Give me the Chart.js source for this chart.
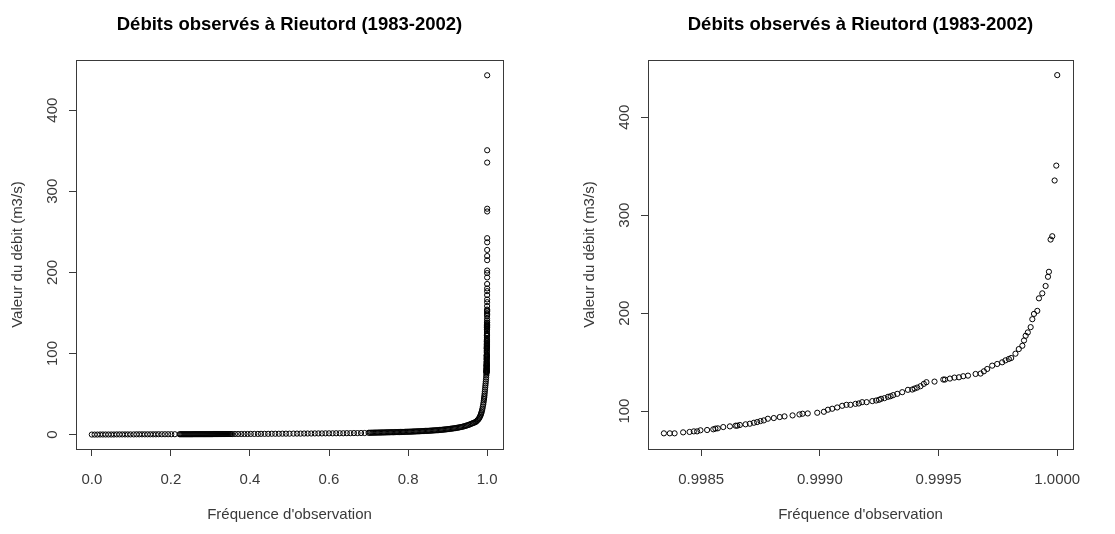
<!DOCTYPE html>
<html>
<head>
<meta charset="utf-8">
<script src="https://cdn.jsdelivr.net/npm/chart.js@4.4.0/dist/chart.umd.min.js"></script>
<style>
  body { margin: 0; background: #fff; }
  #wrap { position: relative; width: 1115px; height: 534px; }
  canvas { position: absolute; top: 0; }
</style>
</head>
<body>
<div id="wrap">
  <canvas id="fullChart" width="557" height="534" style="left:0"></canvas>
  <canvas id="zoomChart" width="558" height="534" style="left:557px"></canvas>
</div>
<script>
const chartTitle = 'Débits observés à Rieutord (1983-2002)';
const xLabel = "Fréquence d'observation";
const yLabel = 'Valeur du débit (m3/s)';

// low part of the curve (only on the left plot)
const lowFreq = [
  // 0 - 0.21
  0.000, 0.007, 0.014, 0.021, 0.028, 0.035, 0.042, 0.049, 0.056, 0.063,
  0.070, 0.077, 0.084, 0.091, 0.098, 0.106, 0.113, 0.120, 0.127, 0.134,
  0.141, 0.148, 0.155, 0.162, 0.169, 0.177, 0.185, 0.193, 0.201, 0.210,
  // 0.22 - 0.355
  0.222, 0.2245, 0.227, 0.2295, 0.232, 0.2345, 0.237, 0.2395, 0.242, 0.2445,
  0.247, 0.2495, 0.252, 0.2545, 0.257, 0.2595, 0.262, 0.2645, 0.267, 0.2695,
  0.272, 0.2745, 0.277, 0.2795, 0.282, 0.2845, 0.287, 0.2895, 0.292, 0.2945,
  0.297, 0.2995, 0.302, 0.3045, 0.307, 0.3095, 0.312, 0.3145, 0.317, 0.3195,
  0.322, 0.3245, 0.327, 0.3295, 0.332, 0.3345, 0.337, 0.3395, 0.342, 0.3445,
  0.347, 0.3495, 0.352, 0.355,
  // 0.36 - 0.69
  0.362, 0.370, 0.378, 0.386, 0.394, 0.402, 0.411, 0.420,
  0.428, 0.437, 0.446, 0.455, 0.464, 0.473, 0.482, 0.491, 0.500, 0.510,
  0.519, 0.528, 0.537, 0.546, 0.555, 0.564, 0.573, 0.582, 0.591, 0.600,
  0.609, 0.618, 0.627, 0.636, 0.645, 0.654, 0.663, 0.672, 0.681, 0.690,
  // 0.70 - 0.97
  0.700, 0.703, 0.706, 0.709, 0.712, 0.715, 0.718, 0.721, 0.724, 0.727,
  0.730, 0.733, 0.736, 0.739,
  0.742, 0.745, 0.748, 0.751, 0.754, 0.757, 0.760, 0.763, 0.766, 0.769,
  0.772, 0.775, 0.778, 0.781, 0.784, 0.787, 0.790, 0.793, 0.796, 0.799,
  0.802, 0.805, 0.808, 0.811, 0.814, 0.817, 0.820, 0.823, 0.826, 0.829,
  0.832, 0.835, 0.838, 0.841, 0.844, 0.847,
  0.850, 0.853, 0.856, 0.859, 0.862, 0.865, 0.868, 0.871, 0.874, 0.877,
  0.880, 0.883, 0.886, 0.889, 0.892, 0.895, 0.898,
  0.901, 0.904, 0.907, 0.910, 0.913, 0.916, 0.919, 0.922, 0.925, 0.928,
  0.931, 0.934, 0.937, 0.940, 0.943, 0.946, 0.949,
  0.952, 0.955, 0.958, 0.961, 0.964, 0.967, 0.970,
  // bend 0.972 - 0.9983
  0.972, 0.974, 0.976, 0.978, 0.980, 0.9815, 0.983, 0.984, 0.985, 0.986,
  0.987, 0.988, 0.989, 0.990, 0.9907, 0.9915, 0.992, 0.9925, 0.993, 0.9935,
  0.994, 0.9945, 0.995, 0.9955, 0.996, 0.9965, 0.997, 0.9974, 0.9978, 0.9981,
  0.9983
];
const lowFlow = [
  0.1, 0.1, 0.1, 0.2, 0.2, 0.2, 0.2, 0.2, 0.2, 0.3,
  0.3, 0.3, 0.3, 0.3, 0.3, 0.3, 0.4, 0.4, 0.4, 0.4,
  0.4, 0.4, 0.4, 0.4, 0.5, 0.5, 0.5, 0.5, 0.5, 0.5,

  0.5, 0.5, 0.5, 0.5, 0.5, 0.5, 0.5, 0.5, 0.5, 0.5,
  0.5, 0.5, 0.5, 0.5, 0.6, 0.6, 0.6, 0.6, 0.6, 0.6,
  0.6, 0.6, 0.6, 0.6, 0.6, 0.6, 0.6, 0.6, 0.6, 0.6,
  0.6, 0.6, 0.6, 0.6, 0.7, 0.7, 0.7, 0.7, 0.7, 0.7,
  0.7, 0.7, 0.7, 0.7, 0.7, 0.7, 0.7, 0.7, 0.7, 0.7,
  0.7, 0.7, 0.7, 0.7,

  0.8, 0.8, 0.8, 0.8, 0.8, 0.9, 0.9, 0.9,
  1.0, 1.0, 1.0, 1.1, 1.1, 1.1, 1.2, 1.2, 1.2, 1.3,
  1.3, 1.3, 1.4, 1.4, 1.4, 1.5, 1.5, 1.5, 1.6, 1.6,
  1.6, 1.7, 1.7, 1.7, 1.8, 1.8, 1.9, 1.9, 2.0, 2.0,

  2.3, 2.3, 2.4, 2.4, 2.4, 2.5, 2.5, 2.5, 2.6, 2.6,
  2.6, 2.7, 2.7, 2.7,
  2.8, 2.8, 2.9, 2.9, 2.9, 3.0, 3.0, 3.0, 3.1, 3.1,
  3.1, 3.2, 3.2, 3.3, 3.3, 3.4, 3.4, 3.5, 3.5, 3.6,
  3.6, 3.7, 3.7, 3.8, 3.9, 3.9, 4.0, 4.1, 4.1, 4.2,
  4.3, 4.3, 4.4, 4.5, 4.6, 4.6,
  4.7, 4.8, 4.9, 5.0, 5.1, 5.2, 5.3, 5.4, 5.5, 5.6,
  5.8, 5.9, 6.0, 6.2, 6.3, 6.5, 6.6,
  6.8, 7.0, 7.2, 7.4, 7.6, 7.8, 8.0, 8.3, 8.5, 8.8,
  9.1, 9.4, 9.7, 10.1, 10.5, 10.9, 11.4,
  11.9, 12.4, 13.0, 13.6, 14.2, 14.8, 15.5,

  16.0, 17.0, 18.0, 19.0, 20.5, 22.0, 23.5, 25.0, 26.5, 28.0,
  30.0, 32.0, 34.5, 37.0, 39.5, 42.0, 44.0, 46.0, 48.0, 50.5,
  53.0, 55.5, 58.0, 60.5, 63.0, 65.5, 68.0, 70.5, 73.0, 75.0,
  76.5
];

// top of the distribution (right plot, also on the left plot)
const topFreq = [
  0.998343, 0.998368, 0.998388, 0.998424, 0.998451, 0.998469, 0.998483, 0.998497, 0.998525, 0.998551,
  0.998560, 0.998570, 0.998593, 0.998621, 0.998645, 0.998652, 0.998663, 0.998687, 0.998705, 0.998722,
  0.998736, 0.998750, 0.998764, 0.998781, 0.998806, 0.998831, 0.998851, 0.998885, 0.998914, 0.998927,
  0.998949, 0.998989, 0.999017, 0.999034, 0.999052, 0.999073, 0.999094, 0.999112, 0.999129, 0.999150,
  0.999164, 0.999178, 0.999197, 0.999221, 0.999237, 0.999249, 0.999258, 0.999272, 0.999287, 0.999298,
  0.999309, 0.999326, 0.999347, 0.999371, 0.999389, 0.999399, 0.999410, 0.999424, 0.999438, 0.999449,
  0.999483, 0.999520, 0.999527, 0.999548, 0.999567, 0.999586, 0.999604, 0.999624, 0.999656, 0.999677,
  0.999691, 0.999705, 0.999726, 0.999747, 0.999768, 0.999782, 0.999796, 0.999806, 0.999824, 0.999838,
  0.999853, 0.999860, 0.999867, 0.999876, 0.999888, 0.999895, 0.999902, 0.999916, 0.999923, 0.999937,
  0.999951, 0.999961, 0.999965, 0.999972, 0.999979, 0.999989, 0.999996, 1.000000
];
const topFlow = [
  77.3, 77.3, 77.3, 78.3, 78.7, 79.3, 79.3, 80.4, 80.7, 81.4,
  82.1, 82.4, 83.7, 84.4, 85.1, 85.1, 85.8, 86.5, 87.1, 88.1,
  88.8, 89.8, 90.5, 92.2, 92.9, 93.9, 94.6, 95.6, 96.6, 97.3,
  97.6, 98.3, 99.3, 101.4, 102.4, 103.7, 105.4, 106.4, 106.4, 107.4,
  107.8, 109.1, 109.1, 110.2, 110.8, 111.5, 112.5, 113.2, 114.6, 115.2,
  116.3, 117.6, 119.3, 121.7, 122.0, 123.0, 124.0, 125.4, 127.8, 129.5,
  130.1, 132.2, 132.2, 133.2, 134.2, 134.5, 135.6, 136.2, 137.9, 138.3,
  140.6, 143.0, 146.4, 148.1, 149.8, 151.8, 153.2, 154.2, 158.6, 163.3,
  166.7, 172.1, 176.9, 180.3, 185.7, 193.8, 199.2, 202.3, 215.1, 220.2,
  227.7, 237.1, 242.2, 275.1, 278.5, 335.4, 350.6, 443.0
];

// axis ranges and tick positions
const fullXRange = [-0.04, 1.04];
const fullYRange = [-17.7, 461.6];
const zoomXRange = [0.998276, 1.0000664];
const zoomYRange = [61.3, 458.2];
const fullXTicks = [0, 0.2, 0.4, 0.6, 0.8, 1.0];
const fullYTicks = [0, 100, 200, 300, 400];
const zoomXTicks = [0.9985, 0.9990, 0.9995, 1.0000];
const zoomYTicks = [100, 200, 300, 400];

const FONT = '"Liberation Sans", Arial, sans-serif';
const INK = '#3a3a3a';

function toPoints(xs, ys) {
  return xs.map((x, i) => ({ x: x, y: ys[i] }));
}

// R style: full box round the plot, y tick labels turned along the axis
const rStyle = {
  id: 'rStyle',
  afterDraw(chart) {
    const ctx = chart.ctx;
    const a = chart.chartArea;
    ctx.save();
    ctx.strokeStyle = INK;
    ctx.lineWidth = 1;
    ctx.strokeRect(Math.round(a.left) + 0.5, Math.round(a.top) + 0.5,
      Math.round(a.right - a.left), Math.round(a.bottom - a.top));
    const ys = chart.scales.y;
    ctx.fillStyle = INK;
    ctx.font = '15px ' + FONT;
    ctx.textAlign = 'center';
    ctx.textBaseline = 'middle';
    ys.ticks.forEach(t => {
      const py = ys.getPixelForValue(t.value);
      ctx.save();
      ctx.translate(a.left - 23, py);
      ctx.rotate(-Math.PI / 2);
      ctx.fillText(t.label, 0, 0);
      ctx.restore();
    });
    ctx.restore();
  }
};

function makeChart(id, points, xr, yr, xTicks, yTicks, digits, yWidth, padRight, yTitlePad) {
  const ctx = document.getElementById(id).getContext('2d');
  return new Chart(ctx, {
    type: 'scatter',
    data: {
      datasets: [{
        data: points,
        pointStyle: 'circle',
        pointRadius: 2.6,
        borderWidth: 1,
        borderColor: '#000',
        backgroundColor: 'rgba(0,0,0,0)'
      }]
    },
    options: {
      responsive: false,
      animation: false,
      devicePixelRatio: 1,
      layout: { padding: { left: 0, right: padRight, top: 0, bottom: 0 } },
      plugins: {
        legend: { display: false },
        tooltip: { enabled: false },
        title: {
          display: true,
          text: chartTitle,
          fullSize: false,
          color: '#000',
          font: { family: FONT, size: 18.5, weight: 'bold' },
          padding: { top: 14, bottom: 24 }
        }
      },
      scales: {
        x: {
          type: 'linear',
          min: xr[0],
          max: xr[1],
          afterFit: s => { s.height = 85; },
          afterBuildTicks: s => { s.ticks = xTicks.map(v => ({ value: v })); },
          border: { display: false },
          grid: { drawOnChartArea: false, drawTicks: true, tickLength: 7, color: INK },
          ticks: {
            padding: 15,
            color: INK,
            font: { family: FONT, size: 15 },
            callback: v => v.toFixed(digits)
          },
          title: {
            display: true,
            text: xLabel,
            color: INK,
            font: { family: FONT, size: 15 },
            padding: { top: 0, bottom: 10 }
          }
        },
        y: {
          type: 'linear',
          min: yr[0],
          max: yr[1],
          afterFit: s => { s.width = yWidth; },
          afterBuildTicks: s => { s.ticks = yTicks.map(v => ({ value: v })); },
          border: { display: false },
          grid: { drawOnChartArea: false, drawTicks: true, tickLength: 7, color: INK },
          ticks: {
            display: false,
            callback: v => String(v)
          },
          title: {
            display: true,
            text: yLabel,
            color: INK,
            font: { family: FONT, size: 15 },
            padding: { top: yTitlePad, bottom: 0 }
          }
        }
      }
    },
    plugins: [rStyle]
  });
}

const allPoints = toPoints(lowFreq.concat(topFreq), lowFlow.concat(topFlow));
const topPoints = toPoints(topFreq, topFlow);

makeChart('fullChart', allPoints, fullXRange, fullYRange, fullXTicks, fullYTicks, 1, 76, 54, 9.3);
makeChart('zoomChart', topPoints, zoomXRange, zoomYRange, zoomXTicks, zoomYTicks, 4, 91, 42, 24.3);
</script>
</body>
</html>
